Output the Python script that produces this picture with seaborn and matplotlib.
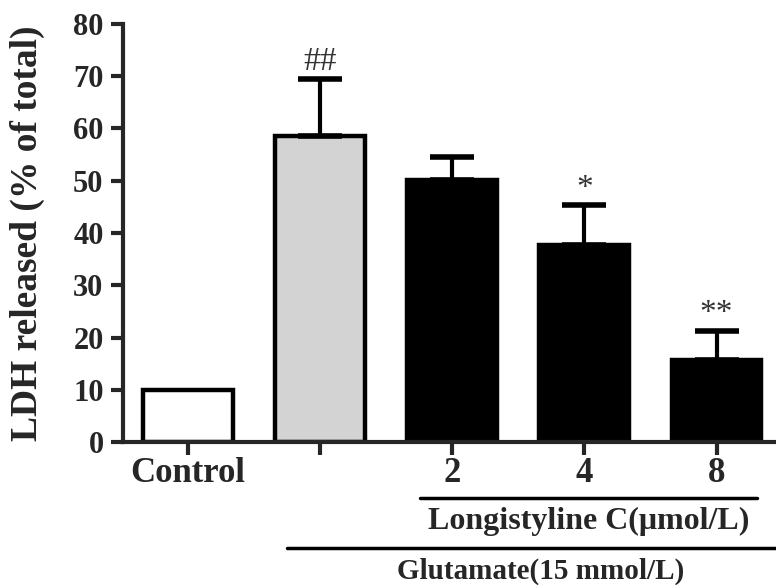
import matplotlib
matplotlib.use('Agg')
import matplotlib.pyplot as plt
import matplotlib.transforms as mtransforms
import seaborn as sns
import pandas as pd

# Datos
grupos = ['Control', 'Glutamate', '2', '4', '8']
etiquetas = ['Control', '', '2', '4', '8']
ldh = [10.0, 58.5, 50.2, 37.8, 15.7]
error = [0.0, 11.0, 4.4, 7.5, 5.6]
signos = ['', '##', '', '*', '**']
colores = ['white', '#d3d3d3', 'black', 'black', 'black']

df = pd.DataFrame({'grupo': grupos, 'ldh': ldh})

sns.set_style('ticks')
plt.rcParams['font.family'] = ['Liberation Serif', 'DejaVu Serif']

fig = plt.figure(figsize=(7.76, 5.85), dpi=100)
ax = fig.add_axes([0.1585, 0.2444, 0.8415, 0.7146])

sns.barplot(data=df, x='grupo', y='ldh', hue='grupo', palette=colores,
            legend=False, width=0.68, edgecolor='black', linewidth=3.2,
            errorbar=None, ax=ax)

# Barras de error (solo hacia arriba)
x = list(range(len(grupos)))
ax.errorbar(x[1:], ldh[1:], yerr=[[0] * 4, error[1:]], fmt='none',
            ecolor='black', elinewidth=3, capsize=16, capthick=4, zorder=1)

# Signos de significancia
for i in range(len(grupos)):
    if signos[i]:
        ax.text(i, ldh[i] + error[i] + 0.3, signos[i], ha='center', va='bottom',
                fontsize=24, color='#333333')

ax.set_xlim(-0.49, 4.45)
ax.set_ylim(0, 80)
ax.set_yticks(range(0, 81, 10))
ax.set_xticks(x)
ax.set_xticklabels(etiquetas, fontsize=25, fontweight='bold')
ax.tick_params(axis='y', labelsize=22, width=3, length=9, pad=5)
ax.tick_params(axis='x', width=3, length=9, pad=2)
for t in ax.get_yticklabels():
    t.set_fontweight('bold')
ax.set_xlabel('')
ax.set_ylabel('LDH released (% of total)', fontsize=27, fontweight='bold', labelpad=20)

sns.despine(ax=ax)
ax.spines['left'].set_linewidth(3)
ax.spines['bottom'].set_linewidth(3)

# Lineas de tratamiento bajo el eje
trans = mtransforms.blended_transform_factory(ax.transData, ax.transAxes)
ax.plot([1.76, 4.31], [-0.134, -0.134], color='black', lw=2.5, transform=trans, clip_on=False)
ax.text(3.03, -0.19, 'Longistyline C(μmol/L)', ha='center', va='center', fontsize=23,
        fontweight='bold', transform=trans)
ax.plot([0.75, 4.45], [-0.254, -0.254], color='black', lw=2.5, transform=trans, clip_on=False)
ax.text(2.67, -0.31, 'Glutamate(15 mmol/L)', ha='center', va='center', fontsize=21,
        fontweight='bold', transform=trans)

fig.savefig('out.png', dpi=100)
